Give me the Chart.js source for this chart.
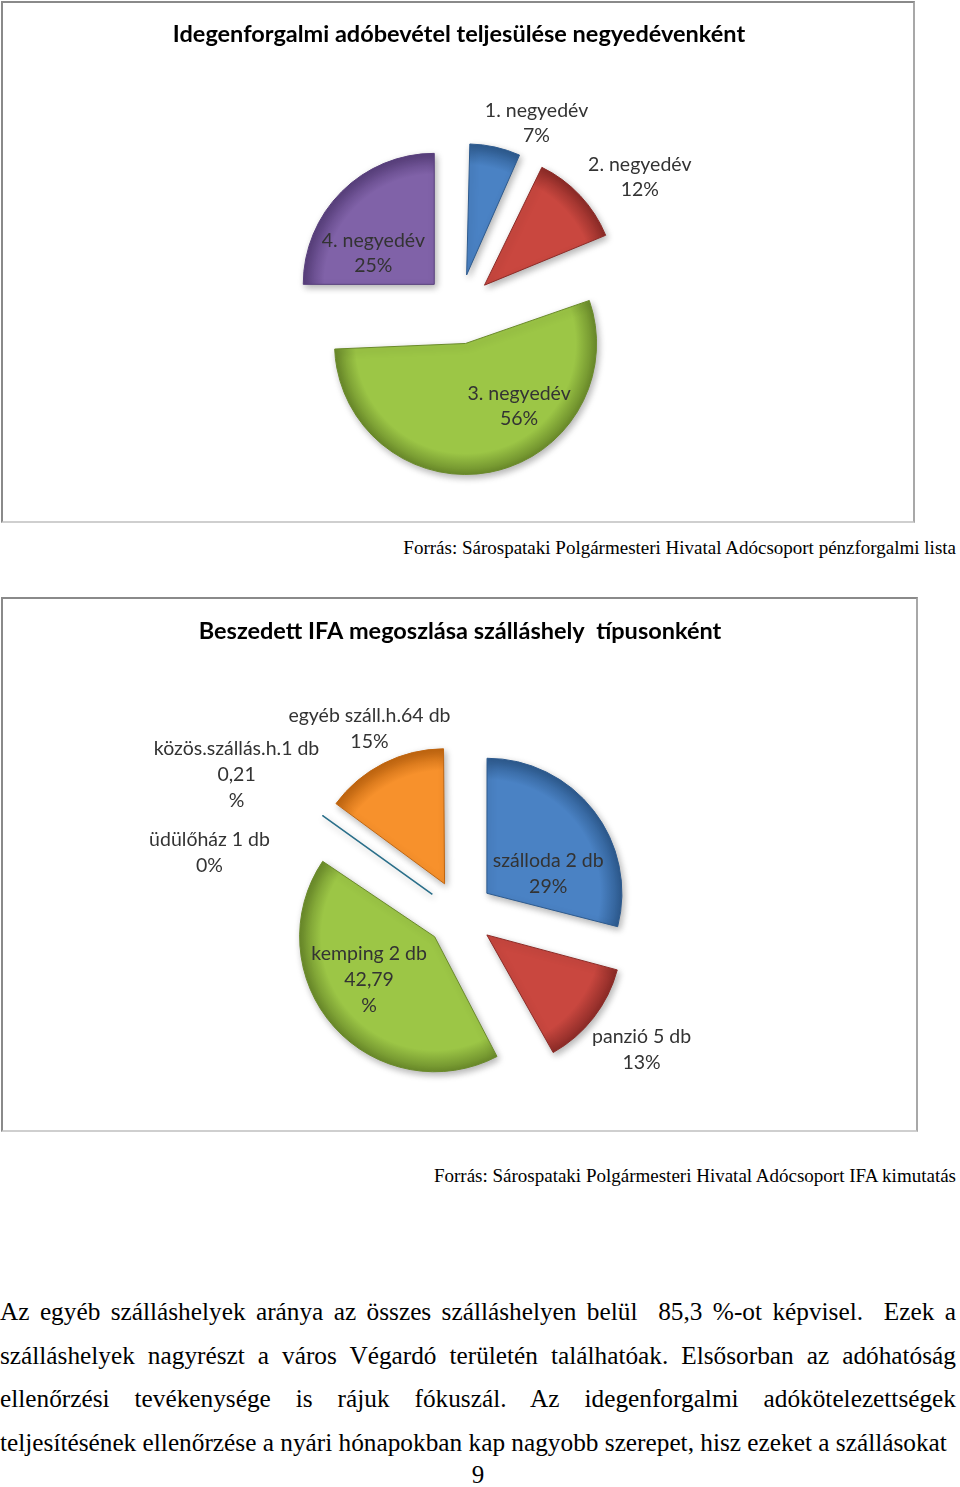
<!DOCTYPE html>
<html>
<head>
<meta charset="utf-8">
<script src="https://cdn.jsdelivr.net/npm/chart.js@4"></script>
<style>
  body { margin: 0; background: #fff; }
  #page { position: relative; width: 960px; height: 1487px; overflow: hidden; background: #fff; }
  .frame {
    position: absolute; box-sizing: border-box;
    border-style: solid; border-width: 2px;
    border-color: #8a8a8a #a8a8a8 #cfcfcf #8a8a8a;
  }
  .frame canvas { position: absolute; left: 0; top: 0; }
  .src {
    position: absolute; right: 4px;
    font-family: "Liberation Serif", "Times New Roman", serif;
    font-size: 19px; line-height: 22px; color: #000; white-space: nowrap;
  }
  .para {
    position: absolute; left: 0; width: 956px;
    font-family: "Liberation Serif", "Times New Roman", serif;
    font-size: 25.3px; line-height: 43.5px; color: #000;
  }
  .para .j { text-align: justify; text-align-last: justify; white-space: nowrap; }
  .para .l { text-align: left; white-space: nowrap; }
  .pg {
    position: absolute; left: 0; width: 956px; top: 1461px; text-align: center;
    font-family: "Liberation Serif", "Times New Roman", serif; font-size: 25px; line-height: 28px;
  }
</style>
</head>
<body>
<div id="page">
  <div class="frame" style="left:1px;top:1px;width:914px;height:522px">
    <canvas id="quarterChart" width="910" height="518"></canvas>
  </div>
  <div class="src" style="top:537px">Forrás: Sárospataki Polgármesteri Hivatal Adócsoport pénzforgalmi lista</div>

  <div class="frame" style="left:1px;top:597px;width:917px;height:535px">
    <canvas id="typeChart" width="913" height="531"></canvas>
  </div>
  <div class="src" style="top:1165px">Forrás: Sárospataki Polgármesteri Hivatal Adócsoport IFA kimutatás</div>

  <div class="para" style="top:1290px">
    <div class="j">Az egyéb szálláshelyek aránya az összes szálláshelyen belül&nbsp; 85,3 %-ot képvisel.&nbsp; Ezek a</div>
    <div class="j">szálláshelyek nagyrészt a város Végardó területén találhatóak. Elsősorban az adóhatóság</div>
    <div class="j">ellenőrzési tevékenysége is rájuk fókuszál. Az idegenforgalmi adókötelezettségek</div>
    <div class="l">teljesítésének ellenőrzése a nyári hónapokban kap nagyobb szerepet, hisz ezeket a szállásokat</div>
  </div>
  <div class="pg">9</div>
</div>

<script>
// --- adatok ---
const quarterLabels = ['1. negyedév', '2. negyedév', '3. negyedév', '4. negyedév'];
const quarterShare = [7, 12, 56, 25];

const typeLabels = ['szálloda 2 db', 'panzió 5 db', 'kemping 2 db', 'üdülőház 1 db', 'közös.szállás.h.1 db', 'egyéb száll.h.64 db'];
const typeShare = [29, 13, 42.79, 0, 0.21, 15];

// Office 2007 színek (alap, sötét perem)
const blue = ['#4a82c4', '#2d5a8e'];
const red = ['#c9473f', '#8c2b27'];
const green = ['#9cc646', '#6a8a2a'];
const purple = ['#8062a8', '#583f7c'];
const aqua = ['#3f95b3', '#2a6f8a'];
const orange = ['#f7912c', '#c0650f'];

const quarterColors = [blue, red, green, purple];
const typeColors = [blue, red, green, purple, aqua, orange];

const labelFont = '19.5px Lato, "Open Sans", sans-serif';
const titleFont = { family: 'Lato, "Open Sans", sans-serif', size: 23.5, weight: 'bold' };

function pct(v) {
  return String(v).replace('.', ',') + '%';
}

// radialis szinatmenet, hogy a szeletek pereme sotetebb legyen
function shaded(colors) {
  return function(c) {
    const pair = colors[c.dataIndex];
    const chart = c.chart;
    const a = chart.chartArea;
    if (!a || !pair) return pair ? pair[0] : '#888';
    const cx = (a.left + a.right) / 2, cy = (a.top + a.bottom) / 2;
    const r = chart.options.radius;
    const g = chart.ctx.createRadialGradient(cx, cy, 0, cx, cy, r);
    g.addColorStop(0, pair[0]);
    g.addColorStop(0.84, pair[0]);
    g.addColorStop(1, pair[1]);
    return g;
  };
}

// Chart.js megnoveli a kiemelt szeletek sugarat (offset*fix), ezt visszaallitjuk
const keepRadius = {
  id: 'keepRadius',
  beforeDatasetDraw(chart, args) {
    const ctrl = args.meta.controller;
    args.meta.data.forEach(arc => {
      const off = (arc.options.offset || 0) / 4;
      const fix = 1 - Math.sin(Math.min(Math.PI, arc.circumference || 0));
      arc.outerRadius = ctrl.outerRadius - off * fix;
    });
  }
};

const softShadow = {
  id: 'softShadow',
  beforeDatasetDraw(chart) {
    const c = chart.ctx;
    c.save();
    c.shadowColor = 'rgba(0,0,0,0.3)';
    c.shadowBlur = 7;
    c.shadowOffsetX = 2;
    c.shadowOffsetY = 3;
  },
  afterDatasetDraw(chart) {
    chart.ctx.restore();
  }
};

// adatcimkek: nev + szazalek, a szelet felezoszoge menten
const sliceLabels = {
  id: 'sliceLabels',
  afterDatasetsDraw(chart, args, opts) {
    const c = chart.ctx;
    const meta = chart.getDatasetMeta(0);
    const R = meta.controller.outerRadius;
    const values = chart.data.datasets[0].data;
    c.save();
    c.font = labelFont;
    c.fillStyle = '#333';
    c.textAlign = 'center';
    c.textBaseline = 'middle';
    meta.data.forEach((arc, i) => {
      const p = opts.place[i];
      const ang = (arc.startAngle + arc.endAngle) / 2 + p.turn * Math.PI / 180;
      const x = arc.x + Math.cos(ang) * R * p.dist;
      const y = arc.y + Math.sin(ang) * R * p.dist;
      const v = pct(values[i]);
      const lines = p.wrap ? [chart.data.labels[i], v.slice(0, -1), '%'] : [chart.data.labels[i], v];
      lines.forEach((t, k) => c.fillText(t, x, y + (k - (lines.length - 1) / 2) * opts.lineHeight));
    });
    c.restore();
  }
};

new Chart(document.getElementById('quarterChart'), {
  type: 'pie',
  data: {
    labels: quarterLabels,
    datasets: [{
      data: quarterShare,
      backgroundColor: shaded(quarterColors),
      borderColor: quarterColors.map(p => p[1]),
      borderWidth: 1,
      offset: 140
    }]
  },
  options: {
    responsive: false,
    animation: false,
    events: [],
    radius: 131,
    layout: { padding: { left: 2, right: 0, top: 0, bottom: 0 } },
    plugins: {
      legend: { display: false },
      tooltip: { enabled: false },
      title: {
        display: true,
        text: 'Idegenforgalmi adóbevétel teljesülése negyedévenként',
        color: '#000',
        font: titleFont,
        padding: { top: 17, bottom: 49 }
      },
      sliceLabels: {
        lineHeight: 25,
        place: [
          { dist: 1.54, turn: 10 },
          { dist: 1.71, turn: 7 },
          { dist: 0.87, turn: -21 },
          { dist: 0.78, turn: -12 }
        ]
      }
    }
  },
  plugins: [keepRadius, softShadow, sliceLabels]
});

new Chart(document.getElementById('typeChart'), {
  type: 'pie',
  data: {
    labels: typeLabels,
    datasets: [{
      data: typeShare,
      backgroundColor: shaded(typeColors),
      borderColor: typeColors.map(p => p[1]),
      borderWidth: [1, 1, 1, 1, 1.6, 1],
      offset: 136
    }]
  },
  options: {
    responsive: false,
    animation: false,
    events: [],
    radius: 135,
    layout: { padding: { left: 1, right: 0, top: 0, bottom: 0 } },
    plugins: {
      legend: { display: false },
      tooltip: { enabled: false },
      title: {
        display: true,
        text: 'Beszedett IFA megoszlása szálláshely  típusonként',
        color: '#000',
        font: titleFont,
        padding: { top: 18, bottom: 53 }
      },
      sliceLabels: {
        lineHeight: 26,
        place: [
          { dist: 0.72, turn: 13 },
          { dist: 1.68, turn: -1 },
          { dist: 0.83, turn: 6, wrap: true },
          { dist: 1.91, turn: -21.5 },
          { dist: 1.95, turn: -3.7, wrap: true },
          { dist: 1.53, turn: 1 }
        ]
      }
    }
  },
  plugins: [keepRadius, softShadow, sliceLabels]
});
</script>
</body>
</html>
